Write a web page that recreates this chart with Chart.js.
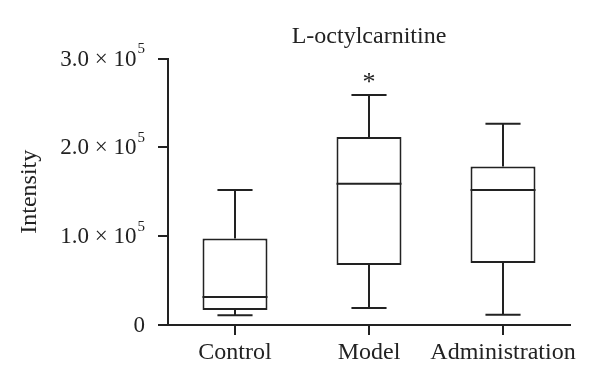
<!DOCTYPE html>
<html>
<head>
<meta charset="utf-8">
<script src="https://cdn.jsdelivr.net/npm/chart.js@4/dist/chart.umd.min.js"></script>
<style>
  html, body { margin: 0; padding: 0; background: #fff; }
  #wrap { width: 600px; height: 385px; position: relative; }
</style>
</head>
<body>
<div id="wrap"><canvas id="c" width="600" height="385"></canvas></div>
<script>
// ---- data ----
const categories = ['Control', 'Model', 'Administration'];
const whiskerMin = [11000, 19000, 11600];
const q1Values   = [17000, 67500, 69800];
const medians    = [31500, 159000, 152000];
const q3Values   = [97500, 211500, 178500];
const whiskerMax = [152000, 259000, 226500];
const marks      = ['', '*', ''];
const yTickValues   = [0, 100000, 200000, 300000];
const yTickMantissa = ['0', '1.0 \u00d7 10', '2.0 \u00d7 10', '3.0 \u00d7 10'];
const yTickExponent = ['', '5', '5', '5'];
const chartTitle = 'L-octylcarnitine';
const yAxisTitle = 'Intensity';

const INK = '#222222';
const SERIF = '"Liberation Serif", "DejaVu Serif", serif';

const boxPlugin = {
  id: 'boxExtras',
  afterDatasetsDraw(chart) {
    const ctx = chart.ctx;
    const xs = chart.scales.x, ys = chart.scales.y;
    const meta = chart.getDatasetMeta(0);
    ctx.save();
    ctx.strokeStyle = INK;
    ctx.lineWidth = 2;
    ctx.lineCap = 'butt';
    categories.forEach((c, i) => {
      const x = xs.getPixelForValue(i);
      const bw = meta.data[i].width;
      const cap = bw * 0.54 / 2;
      const yMax = ys.getPixelForValue(whiskerMax[i]);
      const yMin = ys.getPixelForValue(whiskerMin[i]);
      const yQ1 = ys.getPixelForValue(q1Values[i]);
      const yQ3 = ys.getPixelForValue(q3Values[i]);
      const yMed = ys.getPixelForValue(medians[i]);
      ctx.beginPath();
      // upper whisker
      ctx.moveTo(x, yQ3); ctx.lineTo(x, yMax);
      ctx.moveTo(x - cap, yMax); ctx.lineTo(x + cap, yMax);
      // lower whisker
      ctx.moveTo(x, yQ1); ctx.lineTo(x, yMin);
      ctx.moveTo(x - cap, yMin); ctx.lineTo(x + cap, yMin);
      // median
      ctx.moveTo(x - bw / 2, yMed); ctx.lineTo(x + bw / 2, yMed);
      ctx.stroke();
      if (marks[i]) {
        ctx.fillStyle = INK;
        ctx.font = '26px ' + SERIF;
        ctx.textAlign = 'center';
        ctx.textBaseline = 'middle';
        ctx.fillText(marks[i], x, yMax - 12);
      }
    });
    ctx.restore();
  },
  afterDraw(chart) {
    const ctx = chart.ctx;
    const ys = chart.scales.y;
    const area = chart.chartArea;
    ctx.save();
    ctx.fillStyle = INK;
    // title
    ctx.font = '24px ' + SERIF;
    ctx.textAlign = 'center';
    ctx.textBaseline = 'middle';
    ctx.fillText(chartTitle, (area.left + area.right) / 2, 37);
    // y tick labels with superscript
    const right = 145;
    yTickValues.forEach((v, i) => {
      const y = ys.getPixelForValue(v) + 1;
      ctx.font = '15px ' + SERIF;
      const ew = yTickExponent[i] ? ctx.measureText(yTickExponent[i]).width + 1 : 0;
      if (yTickExponent[i]) {
        ctx.textAlign = 'right';
        ctx.textBaseline = 'middle';
        ctx.fillText(yTickExponent[i], right, y - 10);
      }
      ctx.font = '23px ' + SERIF;
      ctx.textAlign = 'right';
      ctx.textBaseline = 'middle';
      ctx.fillText(yTickMantissa[i], right - ew, y);
    });
    // y axis title
    ctx.translate(30, (area.top + area.bottom) / 2);
    ctx.rotate(-Math.PI / 2);
    ctx.font = '24px ' + SERIF;
    ctx.textAlign = 'center';
    ctx.textBaseline = 'middle';
    ctx.fillText(yAxisTitle, 0, 0);
    ctx.restore();
  }
};

new Chart(document.getElementById('c'), {
  type: 'bar',
  data: {
    labels: categories,
    datasets: [{
      data: categories.map((c, i) => [q1Values[i], q3Values[i]]),
      backgroundColor: '#ffffff',
      borderColor: INK,
      borderWidth: 2,
      borderSkipped: false,
      barPercentage: 1,
      categoryPercentage: 0.485
    }]
  },
  options: {
    responsive: false,
    animation: false,
    devicePixelRatio: 1,
    layout: { padding: { top: 58.5, right: 30, left: 0, bottom: 0 } },
    plugins: { legend: { display: false }, title: { display: false }, tooltip: { enabled: false } },
    scales: {
      x: {
        type: 'category',
        offset: true,
        grid: { display: true, drawOnChartArea: false, drawTicks: true, tickLength: 10, offset: false, color: INK, lineWidth: 2 },
        border: { display: true, color: INK, width: 2 },
        ticks: { color: INK, font: { family: SERIF, size: 24 }, padding: 3, maxRotation: 0, autoSkip: false },
        afterFit(s) { s.height = 60; s.paddingLeft = 0; s.paddingRight = 0; }
      },
      y: {
        min: 0, max: 300000,
        afterBuildTicks(s) { s.ticks = yTickValues.map(v => ({ value: v })); },
        grid: { display: true, drawOnChartArea: false, drawTicks: true, tickLength: 10, color: INK, lineWidth: 2 },
        border: { display: true, color: INK, width: 2 },
        ticks: { display: false },
        afterFit(s) { s.width = 168; s.paddingTop = 0; s.paddingBottom = 0; }
      }
    }
  },
  plugins: [boxPlugin]
});
</script>
</body>
</html>
